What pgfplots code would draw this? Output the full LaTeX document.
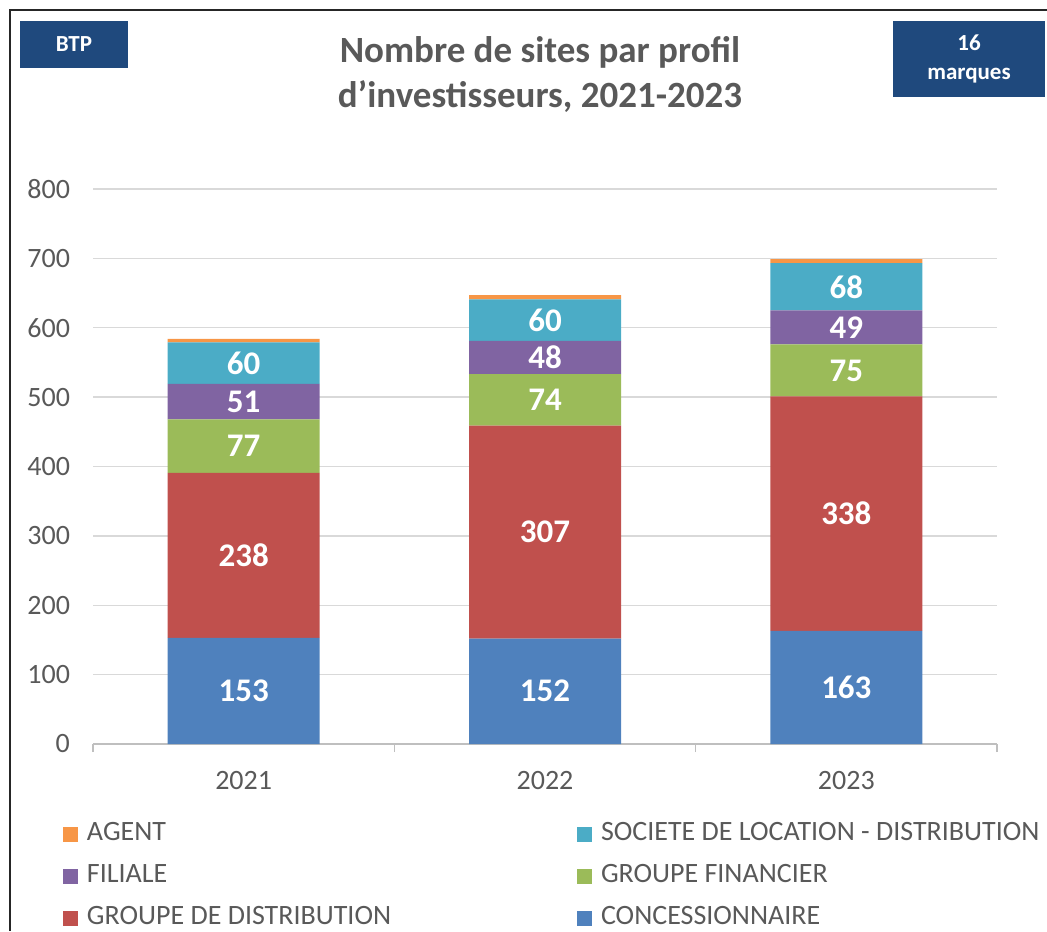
\documentclass[border=0pt]{standalone}
\usepackage{pgfplots}
\pgfplotsset{compat=1.18}
\usepackage{pgfplotstable}
\usepackage{fontspec}
\setmainfont{Carlito}
\definecolor{cConc}{HTML}{4F81BD}
\definecolor{cDist}{HTML}{C0504D}
\definecolor{cFin}{HTML}{9BBB59}
\definecolor{cFil}{HTML}{8064A2}
\definecolor{cSoc}{HTML}{4BACC6}
\definecolor{cAg}{HTML}{F79646}
\definecolor{txtgrey}{HTML}{595959}
\definecolor{boxblue}{HTML}{1F497D}
\definecolor{gridgrey}{HTML}{D9D9D9}
\definecolor{axgrey}{HTML}{BFBFBF}

\pgfplotstableread{
x conc dist fin fil soc ag
0 153 238 77 51 60 5
1 152 307 74 48 60 6
2 163 338 75 49 68 6
}\data

\pgfplotsset{
  seglabel/.style={
    visualization depends on=rawy \as \rawy,
    nodes near coords={\pgfmathprintnumber{\rawy}},
    every node near coord/.append style={anchor=center, text=white,
      font=\bfseries\fontsize{16.5}{18}\selectfont},
  },
  mylegend/.style={
    legend style={at={(0,0)}, anchor=north west, xshift=#1, yshift=-39.5pt,
      draw=none, fill=none, inner sep=0pt, outer sep=0pt,
      font=\fontsize{14}{16}\selectfont, text=txtgrey,
      row sep=10pt, column sep=4.5pt,
      nodes={inner sep=0pt, text height=8.5pt, text depth=2.5pt}},
    legend cell align=left,
  },
}

\begin{document}
\begin{tikzpicture}
\useasboundingbox (0,0) rectangle (523.5pt,465.5pt);
\begin{axis}[
  at={(46.5pt,93.5pt)}, anchor=south west,
  scale only axis, width=452pt, height=277.5pt,
  xmin=-0.5, xmax=2.5, ymin=0, ymax=800,
  ybar stacked, bar width=76pt,
  xtick={0,1,2}, xticklabels={2021,2022,2023},
  minor xtick={-0.5,0.5,1.5,2.5},
  ytick={0,100,...,800},
  major tick length=0pt, minor tick length=4pt,
  tick align=outside,
  axis x line*=bottom, axis y line*=left,
  x axis line style={axgrey, line width=0.7pt},
  y axis line style={draw=none},
  minor tick style={axgrey, line width=0.7pt},
  ymajorgrids, major grid style={gridgrey, line width=0.7pt},
  tick label style={font=\fontsize{14}{16}\selectfont, text=txtgrey},
  /pgf/number format/assume math mode=true,
  yticklabel style={xshift=-8pt},
  xticklabel style={yshift=-10pt},
  legend image code/.code={\fill[#1] (0pt,-3.75pt) rectangle (7.5pt,3.75pt);},
  mylegend=-15pt,
  reverse legend,
]
\addplot[fill=cConc, draw=none, seglabel, forget plot] table[x=x, y=conc] {\data};
\addplot[fill=cDist, draw=none, seglabel] table[x=x, y=dist] {\data};
\addlegendentry{GROUPE DE DISTRIBUTION}
\addplot[fill=cFin, draw=none, seglabel, forget plot] table[x=x, y=fin] {\data};
\addplot[fill=cFil, draw=none, seglabel] table[x=x, y=fil] {\data};
\addlegendentry{FILIALE}
\addplot[fill=cSoc, draw=none, seglabel, forget plot] table[x=x, y=soc] {\data};
\addplot[fill=cAg, draw=none] table[x=x, y=ag] {\data};
\addlegendentry{AGENT}
\end{axis}
\begin{axis}[
  at={(46.5pt,93.5pt)}, anchor=south west,
  scale only axis, width=452pt, height=277.5pt,
  xmin=0, xmax=1, ymin=0, ymax=1, hide axis,
  legend image code/.code={\fill[#1] (0pt,-3.75pt) rectangle (7.5pt,3.75pt);},
  mylegend=242pt,
]
\addlegendimage{fill=cSoc, draw=none}
\addlegendentry{SOCIETE DE LOCATION - DISTRIBUTION}
\addlegendimage{fill=cFin, draw=none}
\addlegendentry{GROUPE FINANCIER}
\addlegendimage{fill=cConc, draw=none}
\addlegendentry{CONCESSIONNAIRE}
\end{axis}
% frame
\draw[line width=1pt, black!85] (5pt,0pt) -- (5pt,460.5pt) -- (523.5pt,460.5pt);
% title
\node[anchor=base, text=txtgrey, font=\bfseries\fontsize{18.5}{22}\selectfont] at (270pt,434pt) {Nombre de sites par profil};
\node[anchor=base, text=txtgrey, font=\bfseries\fontsize{18.5}{22}\selectfont] at (270pt,411.5pt) {d’investisseurs, 2021-2023};
% boxes
\fill[boxblue] (10pt,431.5pt) rectangle (64pt,455pt);
\node[text=white, font=\bfseries\fontsize{11.5}{14}\selectfont] at (37pt,443.25pt) {BTP};
\fill[boxblue] (446.5pt,417pt) rectangle (522.5pt,455pt);
\node[text=white, font=\bfseries\fontsize{11.5}{14.5}\selectfont, align=center] at (484.5pt,436pt) {16\\marques};
\end{tikzpicture}
\end{document}
